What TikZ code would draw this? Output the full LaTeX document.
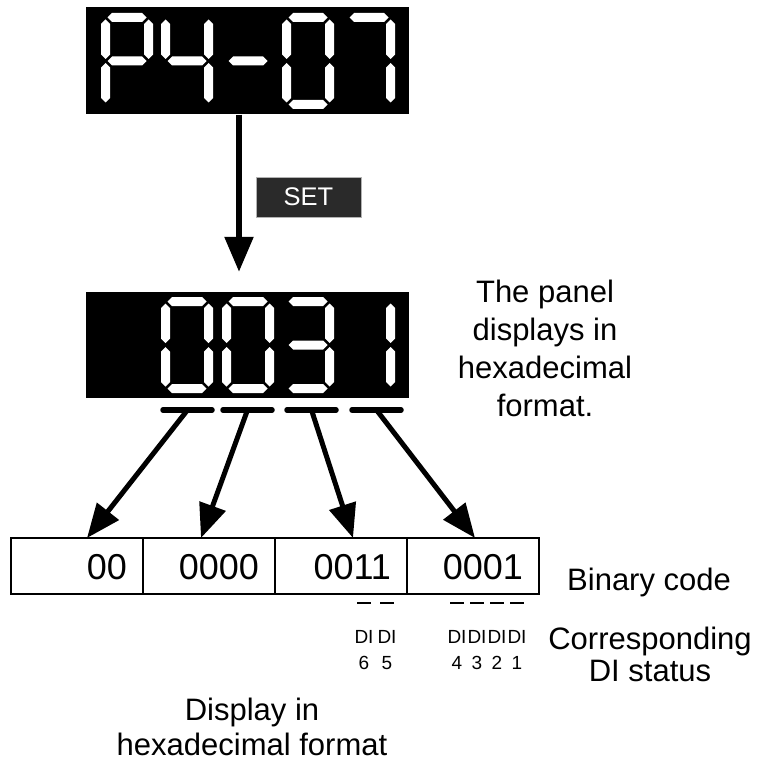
\documentclass[tikz,border=0pt]{standalone}
\usepackage{fontspec}
\setmainfont{Liberation Sans}
\usetikzlibrary{arrows.meta,positioning}
\definecolor{screen}{HTML}{000000}
\definecolor{setkey}{HTML}{2A2A2A}

\newcommand{\hseg}[3]{\fill[white] (#1,#2) -- (#1+4.5,#2-4.5) -- (#3-4.5,#2-4.5) -- (#3,#2) -- (#3-4.5,#2+4.5) -- (#1+4.5,#2+4.5) -- cycle;}
\newcommand{\vseg}[3]{\fill[white] (#1,#2) -- (#1+4.5,#2+4.5) -- (#1+4.5,#3-4.5) -- (#1,#3) -- (#1-4.5,#3-4.5) -- (#1-4.5,#2+4.5) -- cycle;}
\newcommand{\segA}[2]{\hseg{#1+6.5}{#2+4.5}{#1+45.5}}
\newcommand{\segG}[2]{\hseg{#1+6.5}{#2+48}{#1+45.5}}
\newcommand{\segD}[2]{\hseg{#1+6.5}{#2+91.5}{#1+45.5}}
\newcommand{\segF}[2]{\vseg{#1+4.5}{#2+6.5}{#2+46}}
\newcommand{\segB}[2]{\vseg{#1+47.5}{#2+6.5}{#2+46}}
\newcommand{\segE}[2]{\vseg{#1+4.5}{#2+50}{#2+89.5}}
\newcommand{\segC}[2]{\vseg{#1+47.5}{#2+50}{#2+89.5}}
\newcommand{\digit}[3]{\foreach \s in {#3}{\csname seg\s\endcsname{#1}{#2}}}

\begin{document}
\begin{tikzpicture}[x=1pt, y=-1pt,
  display/.style={fill=screen, minimum width=323pt, minimum height=107pt, inner sep=0pt},
  setbox/.style={fill=setkey, draw=gray!60, line width=0.6pt, text=white, minimum width=105pt, minimum height=40pt, inner sep=0pt, font=\fontsize{25.5}{30}\selectfont},
  bar/.style={line width=5.5pt, line cap=round},
  arr/.style={-{Triangle[length=34pt,width=27pt]}, line width=5pt},
  bigarr/.style={-{Triangle[length=35pt,width=28pt]}, line width=5.5pt},
  cell/.style={draw, line width=1.4pt, outer sep=0pt, text width=100pt, inner xsep=16pt, inner ysep=0pt, minimum height=56pt, align=right, text height=26pt, text depth=0pt, font=\fontsize{36}{40}\selectfont},
  label/.style={align=center, inner sep=0pt, font=\fontsize{31}{38}\selectfont},
  dilab/.style={align=center, inner sep=0pt, font=\fontsize{19}{26}\selectfont},
  dibar/.style={line width=1.5pt}
]
  \useasboundingbox (0,0) rectangle (757,765);
  \node[display] (top) at (247.5,61) {};
  \digit{101}{13}{A,B,F,G,E}
  \digit{161}{13}{F,B,G,C}
  \digit{222}{13}{G}
  \digit{282}{13}{A,B,C,D,E,F}
  \digit{343}{13}{A,B,C}
  \node[setbox] (set) at (308.5,197) {SET};
  \node[display, minimum height=106pt] (mid) at (247.5,345) {};
  \digit{161}{297}{A,B,C,D,E,F}
  \digit{222}{297}{A,B,C,D,E,F}
  \digit{282}{297}{A,B,G,C,D}
  \digit{343}{297}{B,C}
  \draw[bigarr] ([xshift=-8.5pt]top.south) -- ([xshift=-8.5pt,yshift=20pt]mid.north);
  \node[label, anchor=north] (note) at (545,280) {The panel\\displays in\\hexadecimal\\format.};
  \coordinate (u1) at (187.5,410); \coordinate (u2) at (247.5,410);
  \coordinate (u3) at (311.5,410); \coordinate (u4) at (376.5,410);
  \draw[bar] (163,410) -- (212,410); \draw[bar] (223,410) -- (272,410);
  \draw[bar] (287,410) -- (336,410); \draw[bar] (352,410) -- (401,410);
  \node[cell, anchor=west] (c1) at (11,566) {00};
  \node[cell, right=0pt of c1] (c2) {0000};
  \node[cell, right=0pt of c2] (c3) {0011};
  \node[cell, right=0pt of c3] (c4) {0001};
  \coordinate (t1) at (87,538); \coordinate (t2) at (201,538);
  \coordinate (t3) at (353,538); \coordinate (t4) at (475,538);
  \draw[arr] (u1) -- (t1); \draw[arr] (u2) -- (t2);
  \draw[arr] (u3) -- (t3); \draw[arr] (u4) -- (t4);
  \node[label, anchor=base west] (binary) at (567,590) {Binary code};
  \foreach \n/\x in {6/364,5/387,4/457,3/477,2/497,1/517}{
    \node[dilab, anchor=north] (di\n) at (\x,630) {DI\\\n};
    \draw[dibar] (\x-7,603) -- (\x+7,603);
  }
  \node[label, anchor=north, font=\fontsize{31}{32}\selectfont] (status) at (650,627) {Corresponding\\DI status};
  \node[label, anchor=north, font=\fontsize{31}{35}\selectfont] (hexfmt) at (252,698) {Display in\\hexadecimal format};
\end{tikzpicture}
\end{document}
